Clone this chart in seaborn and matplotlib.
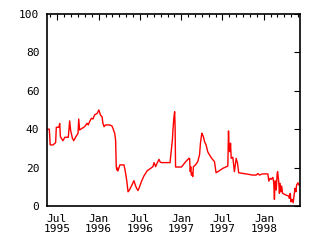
import matplotlib
matplotlib.use("Agg")
import matplotlib.pyplot as plt
import matplotlib.dates as mdates
import seaborn as sns
import pandas as pd

dates = [
    "1995-05-18", "1995-05-28", "1995-06-01", "1995-06-13", "1995-06-25", "1995-06-28",
    "1995-07-09", "1995-07-13", "1995-07-16", "1995-07-27", "1995-08-05", "1995-08-20",
    "1995-08-26", "1995-08-30", "1995-09-07", "1995-09-13", "1995-09-21", "1995-10-02",
    "1995-10-05", "1995-10-09", "1995-10-21", "1995-10-31", "1995-11-11", "1995-11-16",
    "1995-11-22", "1995-11-30", "1995-12-07", "1995-12-14", "1995-12-26", "1996-01-02",
    "1996-01-09", "1996-01-16", "1996-01-20", "1996-01-25", "1996-01-31", "1996-02-19",
    "1996-02-29", "1996-03-04", "1996-03-12", "1996-03-16", "1996-03-19", "1996-03-21",
    "1996-03-24", "1996-03-26", "1996-03-29", "1996-04-04", "1996-04-22", "1996-04-28",
    "1996-05-04", "1996-05-10", "1996-05-16", "1996-05-27", "1996-06-05", "1996-06-11",
    "1996-06-17", "1996-06-23", "1996-06-29", "1996-07-08", "1996-07-19", "1996-08-03",
    "1996-08-18", "1996-08-28", "1996-09-02", "1996-09-09", "1996-09-15", "1996-09-24",
    "1996-09-29", "1996-10-04", "1996-11-12", "1996-11-13", "1996-11-18", "1996-11-22",
    "1996-11-25", "1996-11-29", "1996-12-02", "1996-12-04", "1996-12-06", "1997-01-01",
    "1997-01-20", "1997-02-03", "1997-02-06", "1997-02-09", "1997-02-11", "1997-02-14",
    "1997-02-17", "1997-02-20", "1997-02-23", "1997-03-04", "1997-03-14", "1997-03-22",
    "1997-03-26", "1997-04-01", "1997-04-05", "1997-04-10", "1997-04-13", "1997-04-20",
    "1997-04-27", "1997-05-05", "1997-05-15", "1997-05-27", "1997-06-03", "1997-06-18",
    "1997-07-03", "1997-07-25", "1997-07-28", "1997-07-31", "1997-08-03", "1997-08-06",
    "1997-08-09", "1997-08-16", "1997-08-23", "1997-08-31", "1997-09-06", "1997-09-11",
    "1997-10-14", "1997-11-12", "1997-11-27", "1997-12-05", "1997-12-12", "1997-12-24",
    "1998-01-18", "1998-01-22", "1998-01-28", "1998-02-02", "1998-02-09", "1998-02-13",
    "1998-02-16", "1998-02-19", "1998-02-24", "1998-02-28", "1998-03-02", "1998-03-07",
    "1998-03-10", "1998-03-13", "1998-03-17", "1998-03-20", "1998-03-24", "1998-04-08",
    "1998-04-20", "1998-04-23", "1998-04-27", "1998-04-30", "1998-05-05", "1998-05-10",
    "1998-05-13", "1998-05-18", "1998-05-22", "1998-05-25", "1998-05-31", "1998-06-04",
]
values = [
    40.0, 40.0, 31.8, 31.8, 33.0, 41.0,
    41.0, 43.0, 36.1, 34.0, 35.8, 35.8,
    44.3, 39.6, 35.3, 34.0, 35.8, 37.9,
    45.3, 39.6, 40.5, 41.3, 43.1, 42.2,
    43.9, 45.7, 45.3, 47.4, 48.3, 50.0,
    47.4, 46.5, 43.1, 41.3, 42.2, 42.2,
    41.7, 40.5, 37.9, 34.4, 20.5, 18.8,
    19.8, 18.2, 19.3, 21.4, 21.4, 17.9,
    13.5, 7.4, 8.3, 10.9, 13.2, 10.9,
    9.2, 8.0, 9.7, 12.7, 15.6, 18.4,
    19.6, 20.5, 22.6, 20.5, 22.2, 24.3,
    22.9, 22.6, 22.6, 24.3, 29.7, 34.4,
    40.5, 46.5, 49.1, 41.3, 20.3, 20.3,
    23.1, 24.8, 24.8, 17.9, 20.5, 16.1,
    17.3, 15.3, 20.5, 21.4, 23.1, 26.6,
    32.7, 37.9, 37.0, 35.3, 33.5, 31.8,
    28.3, 26.6, 24.8, 23.1, 17.3, 18.4,
    19.6, 20.8, 39.1, 29.2, 28.3, 32.7,
    24.8, 25.4, 17.9, 24.8, 22.2, 17.3,
    16.7, 16.1, 16.1, 16.9, 16.1, 16.7,
    16.7, 13.0, 14.4, 13.9, 14.9, 12.1,
    3.5, 13.2, 8.3, 16.7, 17.9, 12.7,
    6.6, 11.8, 7.4, 10.4, 6.6, 5.7,
    5.2, 4.0, 6.6, 2.2, 3.5, 1.7,
    4.8, 9.2, 7.4, 10.9, 12.1, 10.9,
]
y_ticks = [0, 20, 40, 60, 80, 100]

df = pd.DataFrame({"date": pd.to_datetime(dates), "value": values})

sns.set_style("white")
plt.rcParams["font.family"] = ["DejaVu Sans Mono", "DejaVu Sans"]
plt.rcParams["font.size"] = 8

fig = plt.figure(figsize=(3.2, 2.4), dpi=100)
ax = fig.add_axes([0.147, 0.1417, 0.7905, 0.80])
sns.lineplot(data=df, x="date", y="value", ax=ax, color="#ff0000", linewidth=1.0)

ax.set_xlim(pd.Timestamp("1995-05-18"), pd.Timestamp("1998-06-09"))
ax.set_ylim(0, 100)
ax.set_yticks(y_ticks)
ax.set_xlabel("")
ax.set_ylabel("")
ax.xaxis.set_major_locator(mdates.MonthLocator(bymonth=[1, 7]))
ax.xaxis.set_minor_locator(mdates.MonthLocator())
ax.xaxis.set_major_formatter(mdates.DateFormatter("%b\n%Y"))

for s in ax.spines.values():
    s.set_visible(True)
    s.set_color("black")
    s.set_linewidth(1.2)

ax.tick_params(which="both", direction="in", top=True, right=True, colors="black",
               labelcolor="black", width=0.8)
ax.tick_params(which="major", length=4.3, pad=5.5, labelsize=8)
ax.tick_params(which="minor", length=2.2)
ax.tick_params(axis="y", which="minor", left=False, right=False)
for lbl in ax.get_xticklabels():
    lbl.set_linespacing(1.0)

fig.savefig("out.png", dpi=100, facecolor="white")
